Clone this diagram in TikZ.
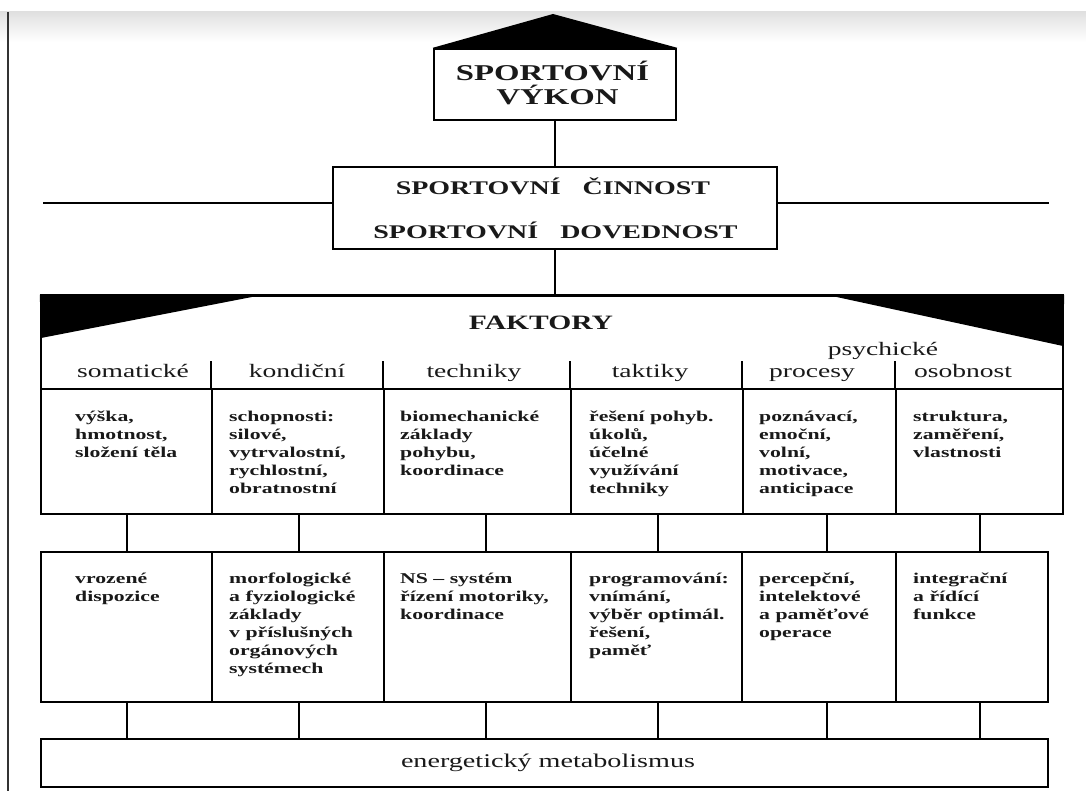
\documentclass[tikz,border=0pt]{standalone}
\usepackage{fontspec}
\setmainfont{Liberation Serif}[FakeStretch=1.45]
\usetikzlibrary{fit,calc}
\newcommand\fl{\rule{0pt}{12pt}}
\begin{document}
\begin{tikzpicture}[x=1pt,y=-1pt,
  frame/.style={draw=black, line width=2.4pt, rectangle, inner sep=0pt},
  conn/.style={draw=black, line width=2.2pt},
  cell/.style={anchor=north west, inner sep=0pt, align=left, text=black!90,
    font=\bfseries\fontsize{15}{18}\selectfont},
  head/.style={anchor=base, inner sep=0pt, text=black!90, font=\fontsize{19}{22}\selectfont},
  big/.style={anchor=base, inner sep=0pt, text=black!90, font=\bfseries\fontsize{22.6}{24}\selectfont},
  mid/.style={anchor=base, inner sep=0pt, text=black!90, font=\bfseries\fontsize{19.3}{22}\selectfont}]
\useasboundingbox (0,0) rectangle (1086,791);
\fill[white] (0,0) rectangle (1086,791);
\shade[top color=black!12, bottom color=white] (0,12) rectangle (1086,42);
\draw[line width=1.6pt, black!80] (8,12) -- (8,791);

% top box
\node[frame, fit={(434,49) (676,120)}] (vykon) {};
\coordinate (apex) at (553,14);
\fill (vykon.north west) -- (apex) -- (vykon.north east) -- cycle;
\node[big] (t1) at (552.5,80.5) {SPORTOVNÍ};
\node[big] (t2) at (557.5,104.5) {VÝKON};

% activity box
\node[frame, fit={(333,167) (777,249)}] (cinnost) {};
\node[mid] (t3) at (553,194.5) {SPORTOVNÍ\hspace{22pt}ČINNOST};
\node[mid] (t4) at (555.5,238.5) {SPORTOVNÍ\hspace{22pt}DOVEDNOST};
\coordinate (hl) at (43,203);
\coordinate (hr) at (1049,203);
\draw[conn, line width=2.6pt] (hl) -- (hl -| cinnost.west);
\draw[conn, line width=2.6pt] (cinnost.east |- hr) -- (hr);
\draw[conn] (vykon.south) -- (vykon.south |- cinnost.north);

% factors table
\node[frame, fit={(41,296) (1063,514)}] (fak) {};
\draw[conn] (cinnost.south) -- (cinnost.south |- fak.north);
\fill (fak.north west) -- (257,296) -- (41,338) -- cycle;
\fill (832,296) -- (fak.north east) -- (1063,346) -- cycle;
\draw[line width=2.4pt] (fak.north west) -- (fak.north east);
\node[anchor=base, inner sep=0pt, text=black!90, font=\bfseries\fontsize{20.4}{22}\selectfont] (faktory) at (541,330) {FAKTORY};
\node[head] (psych) at (883,355) {psychické};

\node[frame, fit={(41,389) (212,514)}] (u1) {};
\node[frame, fit={(212,389) (384,514)}] (u2) {};
\node[frame, fit={(384,389) (571,514)}] (u3) {};
\node[frame, fit={(571,389) (743,514)}] (u4) {};
\node[frame, fit={(743,389) (896,514)}] (u5) {};
\node[frame, fit={(896,389) (1063,514)}] (u6) {};
\foreach \c in {u2,u3,u4,u5,u6} \draw[conn] (\c.north west) -- ++(0,-27);

\node[head] (h1) at (133,377) {somatické};
\node[head] (h2) at (297,377) {kondiční};
\node[head] (h3) at (474,377) {techniky};
\node[head] (h4) at (650,377) {taktiky};
\node[head] (h5) at (812,377) {procesy};
\node[head] (h6) at (963,377) {osobnost};

\node[cell] (a1) at (75,409) {\fl výška,\\hmotnost,\\složení těla};
\node[cell] (a2) at (229,409) {\fl schopnosti:\\silové,\\vytrvalostní,\\rychlostní,\\obratnostní};
\node[cell] (a3) at (400,409) {\fl biomechanické\\základy\\pohybu,\\koordinace};
\node[cell] (a4) at (589,409) {\fl řešení pohyb.\\úkolů,\\účelné\\využívání\\techniky};
\node[cell] (a5) at (759,409) {\fl poznávací,\\emoční,\\volní,\\motivace,\\anticipace};
\node[cell] (a6) at (913,409) {\fl struktura,\\zaměření,\\vlastnosti};

% lower boxes
\node[frame, fit={(41,552) (212,702)}] (l1) {};
\node[frame, fit={(212,552) (384,702)}] (l2) {};
\node[frame, fit={(384,552) (571,702)}] (l3) {};
\node[frame, fit={(571,552) (742,702)}] (l4) {};
\node[frame, fit={(742,552) (896,702)}] (l5) {};
\node[frame, fit={(896,552) (1048,702)}] (l6) {};

\node[cell] (b1) at (75,571) {\fl vrozené\\dispozice};
\node[cell] (b2) at (229,571) {\fl morfologické\\a fyziologické\\základy\\v příslušných\\orgánových\\systémech};
\node[cell] (b3) at (400,571) {\fl NS -- systém\\řízení motoriky,\\koordinace};
\node[cell] (b4) at (589,571) {\fl programování:\\vnímání,\\výběr optimál.\\řešení,\\paměť};
\node[cell] (b5) at (759,571) {\fl percepční,\\intelektové\\a paměťové\\operace};
\node[cell] (b6) at (913,571) {\fl integrační\\a řídící\\funkce};

% energy box
\node[frame, fit={(41,739) (1048,787)}, text=black!90, font=\fontsize{19.4}{22}\selectfont] (energy) {};
\node[anchor=base, inner sep=0pt, text=black!90, font=\fontsize{19.4}{22}\selectfont] (et) at (548,767) {energetický metabolismus};

% connectors
\coordinate (c1) at (127,0);
\coordinate (c2) at (299,0);
\coordinate (c3) at (486,0);
\coordinate (c4) at (658,0);
\coordinate (c5) at (827,0);
\coordinate (c6) at (980,0);
\foreach \i in {1,...,6} {
  \draw[conn] (u\i.south -| c\i) -- (l\i.north -| c\i);
  \draw[conn] (l\i.south -| c\i) -- (energy.north -| c\i);
}
\end{tikzpicture}
\end{document}
